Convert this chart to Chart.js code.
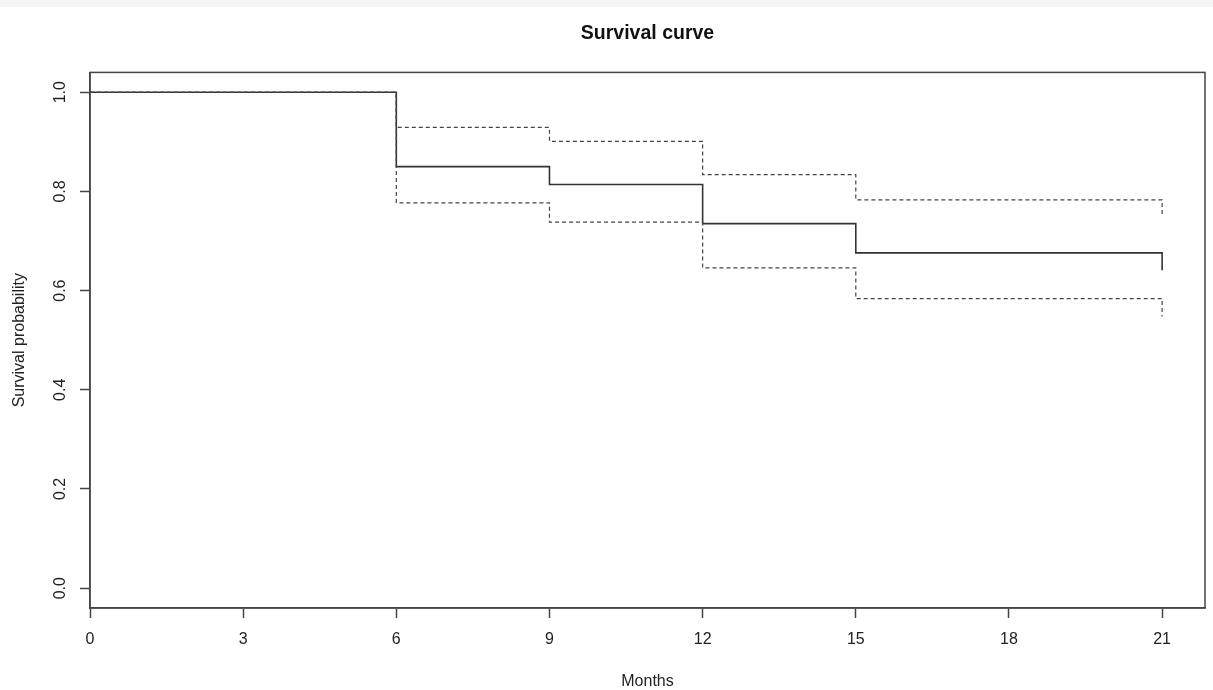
<!DOCTYPE html>
<html>
<head>
<meta charset="utf-8">
<title>Survival curve</title>
<script src="https://cdn.jsdelivr.net/npm/chart.js@4/dist/chart.umd.min.js"></script>
<style>
  html, body { margin: 0; padding: 0; background: #fff; }
  #wrap { position: relative; width: 1213px; height: 690px; }
  #topband { position: absolute; left: 0; top: 0; width: 1213px; height: 7px; background: #f5f5f5; }
  #survivalChart { position: absolute; left: 0; top: 0; }
</style>
</head>
<body>
<div id="wrap">
  <div id="topband"></div>
  <canvas id="survivalChart" width="1213" height="690"></canvas>
</div>
<script>
// Kaplan-Meier estimate with 95% confidence band
const months = [0, 6, 9, 12, 15, 21];
const survival = [1.0, 0.850, 0.814, 0.735, 0.676, 0.641];
const upperCI = [1.0, 0.929, 0.901, 0.834, 0.783, 0.754];
const lowerCI = [1.0, 0.777, 0.738, 0.646, 0.584, 0.548];

const xTicks = [0, 3, 6, 9, 12, 15, 18, 21];
const yTicks = [0.0, 0.2, 0.4, 0.6, 0.8, 1.0];

const FONT = '"Liberation Sans", Arial, Helvetica, sans-serif';

function toPoints(values) {
  return months.map((m, i) => ({ x: m, y: values[i] }));
}

// Draw the closed box around the plot region, like R's box()
const plotBox = {
  id: 'plotBox',
  afterDraw(chart) {
    const { ctx, chartArea } = chart;
    ctx.save();
    ctx.strokeStyle = '#444';
    ctx.lineWidth = 1.5;
    ctx.strokeRect(chartArea.left, chartArea.top,
      chartArea.right - chartArea.left, chartArea.bottom - chartArea.top);
    ctx.restore();
  }
};

const ctx = document.getElementById('survivalChart');
new Chart(ctx, {
  type: 'line',
  data: {
    datasets: [
      {
        label: 'Upper 95% CI',
        data: toPoints(upperCI),
        borderColor: '#444',
        borderWidth: 1.2,
        borderDash: [4, 3],
        stepped: true,
        pointRadius: 0
      },
      {
        label: 'Lower 95% CI',
        data: toPoints(lowerCI),
        borderColor: '#444',
        borderWidth: 1.2,
        borderDash: [4, 3],
        stepped: true,
        pointRadius: 0
      },
      {
        label: 'Survival',
        data: toPoints(survival),
        borderColor: '#333',
        borderWidth: 1.6,
        stepped: true,
        pointRadius: 0
      }
    ]
  },
  options: {
    responsive: false,
    animation: false,
    layout: { padding: { left: 0, right: 8, top: 0, bottom: 0 } },
    plugins: {
      legend: { display: false },
      tooltip: { enabled: false },
      title: {
        display: true,
        text: 'Survival curve',
        fullSize: false,
        color: '#111',
        font: { family: FONT, size: 19.5, weight: 'bold' },
        padding: { top: 22, bottom: 27 }
      }
    },
    scales: {
      x: {
        type: 'linear',
        min: 0,
        max: 21 * 1.04,
        afterBuildTicks: scale => { scale.ticks = xTicks.map(v => ({ value: v })); },
        afterFit: scale => { scale.height = 82; },
        grid: { drawOnChartArea: false, drawTicks: true, tickLength: 10, tickWidth: 1.5, color: '#444' },
        border: { display: true, color: '#444', width: 1.5 },
        ticks: {
          color: '#222',
          padding: 12,
          maxRotation: 0,
          font: { family: FONT, size: 16 }
        },
        title: {
          display: true,
          text: 'Months',
          color: '#222',
          font: { family: FONT, size: 16 },
          padding: { top: 0, bottom: -1 }
        }
      },
      y: {
        type: 'linear',
        min: -0.04,
        max: 1.04,
        afterBuildTicks: scale => { scale.ticks = yTicks.map(v => ({ value: v })); },
        afterFit: scale => { scale.width = 90; },
        grid: { drawOnChartArea: false, drawTicks: true, tickLength: 10, tickWidth: 1.5, color: '#444' },
        border: { display: true, color: '#444', width: 1.5 },
        ticks: {
          color: '#222',
          padding: 8,
          minRotation: 90,
          maxRotation: 90,
          crossAlign: 'center',
          font: { family: FONT, size: 16 },
          callback: value => value.toFixed(1)
        },
        title: {
          display: true,
          text: 'Survival probability',
          color: '#222',
          font: { family: FONT, size: 16 },
          padding: { top: 10, bottom: 0 }
        }
      }
    }
  },
  plugins: [plotBox]
});
</script>
</body>
</html>
